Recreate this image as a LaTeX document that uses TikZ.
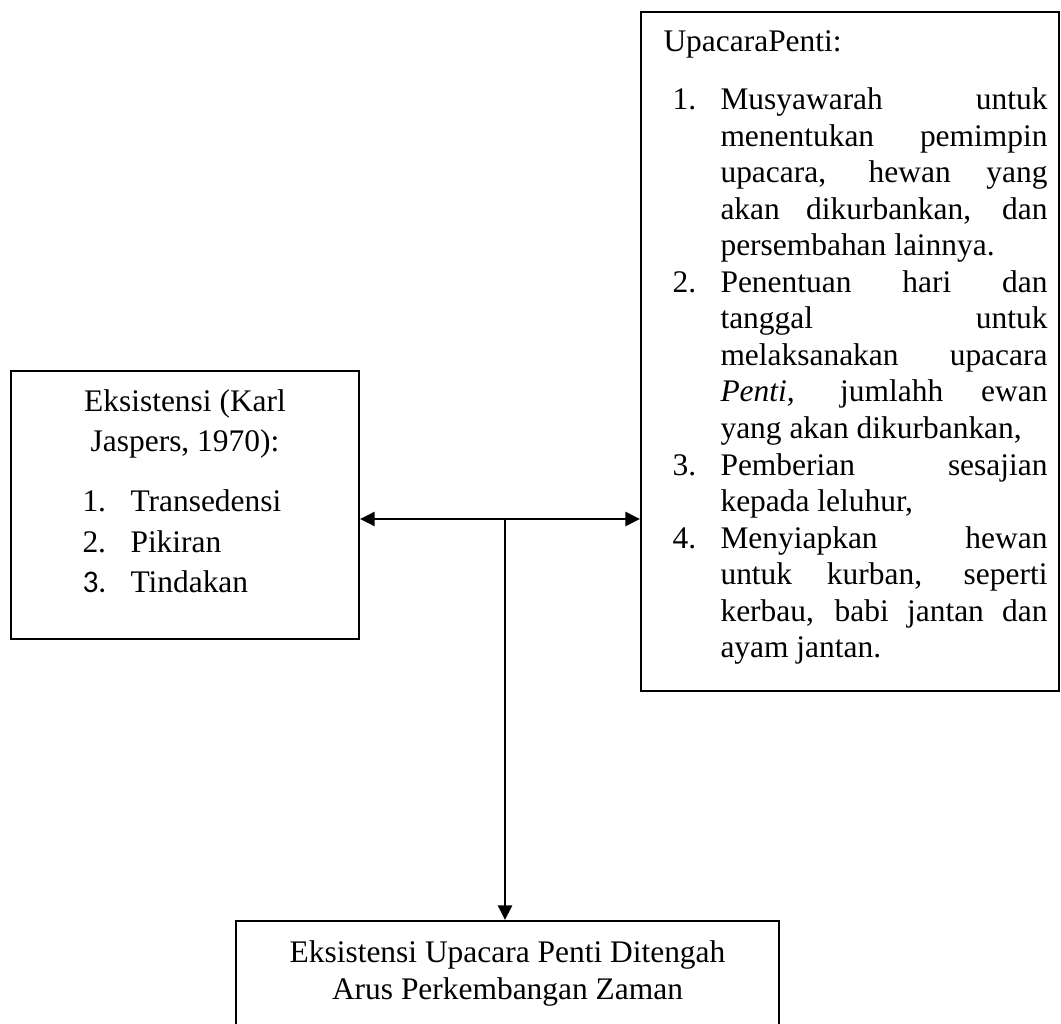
\documentclass[tikz,border=0pt]{standalone}
\usepackage{fontspec}
\setmainfont{Liberation Serif}
\newfontfamily\calibrifont{Carlito}
\usetikzlibrary{arrows.meta,fit}
\newcommand\justline[1]{\makebox[124.8pt][s]{#1}}
\begin{document}
\begin{tikzpicture}[x=0.38168pt,y=-0.38168pt,
  >={Triangle[length=5.6pt,width=5.4pt]},
  box/.style={draw, line width=0.76pt, inner sep=0pt, rectangle},
  conn/.style={line width=0.76pt},
  txt/.style={inner sep=0pt, anchor=base west, font=\fontsize{12}{13.9}\selectfont},
  ctxt/.style={txt, anchor=base}]
\clip (0,0) rectangle (1061,1024);
% boxes
\node[box, fit={(11,371) (359,639)}] (L) {};
\node[box, fit={(641,12) (1059,691)}] (R) {};
\node[box, fit={(236,921) (779,1045)}] (B) {};
% left box text
\node[ctxt] (l1) at (185,412) {Eksistensi (Karl};
\node[ctxt] (l2) at (185,452) {Jaspers, 1970):};
\node[txt] (ln1) at (82,512) {1.};
\node[txt] (lt1) at (130,512) {Transedensi};
\node[txt] (ln2) at (82,552) {2.};
\node[txt] (lt2) at (130,552) {Pikiran};
\node[txt, font=\calibrifont\fontsize{12}{13.9}\selectfont] (ln3) at (82,592) {3.};
\node[txt] (lt3) at (130,592) {Tindakan};
% right box text
\node[txt] (rh) at (663,52) {UpacaraPenti:};
\node[txt] (rn1) at (672,110) {1.};
\node[txt] (r0) at (720,110) {\justline{Musyawarah untuk}};
\node[txt] (r1) at (720,146.5) {\justline{menentukan pemimpin}};
\node[txt] (r2) at (720,183) {\justline{upacara, hewan yang}};
\node[txt] (r3) at (720,219.5) {\justline{akan dikurbankan, dan}};
\node[txt] (r4) at (720,256) {persembahan lainnya.};
\node[txt] (rn2) at (672,292.5) {2.};
\node[txt] (r5) at (720,292.5) {\justline{Penentuan hari dan}};
\node[txt] (r6) at (720,329) {\justline{tanggal untuk}};
\node[txt] (r7) at (720,365.5) {\justline{melaksanakan upacara}};
\node[txt] (r8) at (720,402) {\justline{\textit{Penti,} jumlahh ewan}};
\node[txt] (r9) at (720,438.5) {yang akan dikurbankan,};
\node[txt] (rn3) at (672,475) {3.};
\node[txt] (r10) at (720,475) {\justline{Pemberian sesajian}};
\node[txt] (r11) at (720,511.5) {kepada leluhur,};
\node[txt] (rn4) at (672,548) {4.};
\node[txt] (r12) at (720,548) {\justline{Menyiapkan hewan}};
\node[txt] (r13) at (720,584.5) {\justline{untuk kurban, seperti}};
\node[txt] (r14) at (720,621) {\justline{kerbau, babi jantan dan}};
\node[txt] (r15) at (720,657.5) {ayam jantan.};
% bottom box text
\node[ctxt] (b1) at (507.5,962) {Eksistensi Upacara Penti Ditengah};
\node[ctxt] (b2) at (507.5,999) {Arus Perkembangan Zaman};
% connectors
\coordinate (j) at (505,519);
\draw[conn, <->] (L.east |- j) -- (R.west |- j);
\draw[conn, ->] (j) -- (j |- B.north);
\end{tikzpicture}
\end{document}
